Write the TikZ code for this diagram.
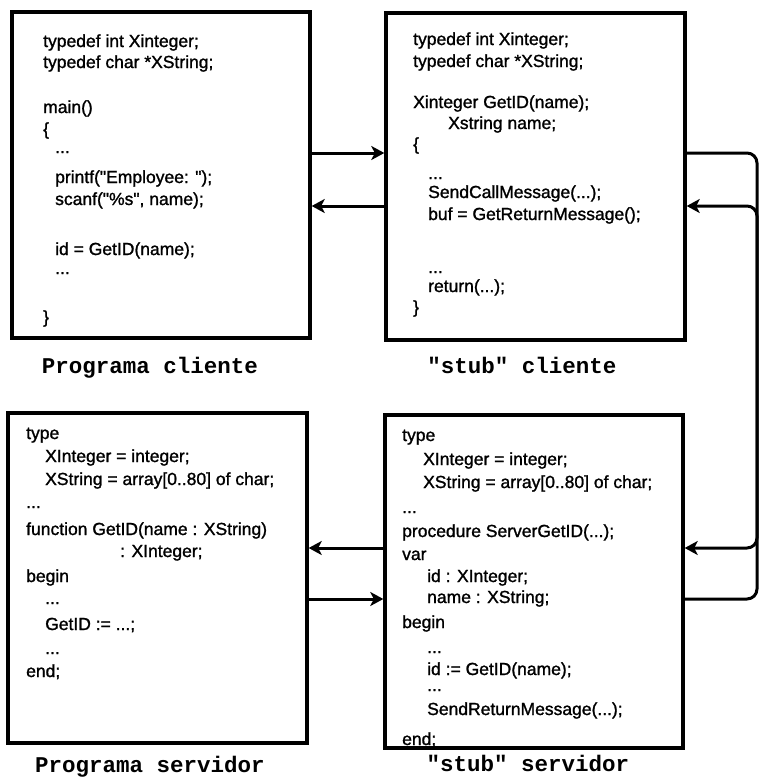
\documentclass[tikz,border=0pt]{standalone}
\usepackage{fontspec}
\setmainfont{Liberation Sans}
\newfontfamily\codefont{Liberation Sans}[FakeBold=1.3]
\newfontfamily\captionfont{Liberation Mono}
\usetikzlibrary{arrows.meta}

\begin{document}
\begin{tikzpicture}[x=1pt,y=-1pt,
  listing/.style={draw=black, line width=3.4pt, rectangle, inner sep=0pt},
  code/.style={anchor=base west, inner sep=0pt, font=\codefont\fontsize{17.5}{20}\selectfont},
  caption/.style={anchor=base, inner sep=0pt, font=\captionfont\bfseries\fontsize{22.5}{26}\selectfont},
  link/.style={line width=3pt, -{Stealth[length=13pt,width=14pt,inset=3.5pt]}, rounded corners=10pt}
]
\useasboundingbox (0,0) rectangle (760,777);

% the four program boxes
\node[listing, minimum width=298pt, minimum height=326pt] (cli) at (161,175) {};
\node[listing, minimum width=299pt, minimum height=327pt] (scl) at (535.5,176.5) {};
\node[listing, minimum width=299pt, minimum height=330pt] (srv) at (157.5,578) {};
\node[listing, minimum width=298pt, minimum height=333pt] (ssv) at (534,581.5) {};

% client program
\foreach \x/\y/\t [count=\i] in {
  43/47/{typedef int Xinteger;},
  43/68/{typedef char *XString;},
  43/113/{main()},
  43/135/{\{},
  55/153/{...},
  55/183/{printf("Employee: ");},
  55/205/{scanf("\%s", name);},
  55/255/{id = GetID(name);},
  55/274/{...},
  43/323/{\}}}
  \node[code] (cl-\i) at (\x,\y) {\t};

% client stub
\foreach \x/\y/\t [count=\i] in {
  413/45/{typedef int Xinteger;},
  413/67/{typedef char *XString;},
  413/108/{Xinteger GetID(name);},
  448/129/{Xstring name;},
  413/150/{\{},
  428/179/{...},
  428/198/{SendCallMessage(...);},
  428/220/{buf = GetReturnMessage();},
  428/273/{...},
  428/292/{return(...);},
  413/313/{\}}}
  \node[code] (sc-\i) at (\x,\y) {\t};

% server program
\foreach \x/\y/\t [count=\i] in {
  26/439/{type},
  45/462/{XInteger = integer;},
  45/485/{XString = array[0..80] of char;},
  26/508/{...},
  26/535/{function GetID(name : XString)},
  120/557/{: XInteger;},
  26/582/{begin},
  45/604/{...},
  45/630/{GetID := ...;},
  45/654/{...},
  26/677/{end;}}
  \node[code] (sv-\i) at (\x,\y) {\t};

% server stub
\foreach \x/\y/\t [count=\i] in {
  402/441/{type},
  423/465/{XInteger = integer;},
  423/488/{XString = array[0..80] of char;},
  402/513/{...},
  402/537/{procedure ServerGetID(...);},
  402/560/{var},
  427/582/{id : XInteger;},
  427/603/{name : XString;},
  402/628/{begin},
  427/653/{...},
  427/675/{id := GetID(name);},
  427/691/{...},
  427/715/{SendReturnMessage(...);},
  402/745/{end;}}
  \node[code] (ss-\i) at (\x,\y) {\t};

% captions
\node[caption] (capcli) at (150,373) {Programa cliente};
\node[caption] (capscl) at (522,373) {"stub" cliente};
\node[caption] (capsrv) at (150,772) {Programa servidor};
\node[caption] (capssv) at (528,771) {"stub" servidor};

% message levels and the return rail on the right
\coordinate (hA) at (0,153);
\coordinate (hB) at (0,206);
\coordinate (hC) at (0,548);
\coordinate (hD) at (0,599);
\coordinate (rail) at (757,0);

\draw[link] (cli.east |- hA) -- (scl.west |- hA);
\draw[link] (scl.west |- hB) -- (cli.east |- hB);
\draw[link] (scl.east |- hA) -- (rail |- hA) -- (rail |- hC) -- (ssv.east |- hC);
\draw[link] (ssv.east |- hD) -- (rail |- hD) -- (rail |- hB) -- (scl.east |- hB);
\draw[link] (ssv.west |- hC) -- (srv.east |- hC);
\draw[link] (srv.east |- hD) -- (ssv.west |- hD);
\end{tikzpicture}
\end{document}
